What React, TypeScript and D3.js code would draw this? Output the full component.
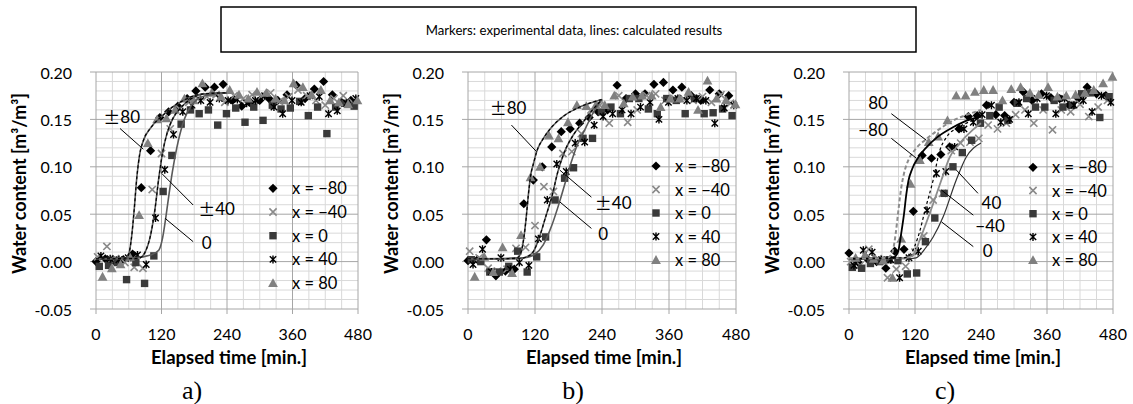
import React from 'react';
import * as d3 from 'd3';

const W = 1133;
const H = 404;

// sampling times (min) and per-sensor logging delay (min)
const sampleTimes = [0, 17, 33, 50, 67, 83, 100, 117, 133, 150, 167, 183, 200, 217, 233, 250, 267, 283, 300, 317, 333, 350, 367, 383, 400, 417, 433, 450, 467];
const sensorDelay = [0, 3, 6, 9, 12];
const seriesLabels = ['x = \u221280', 'x = \u221240', 'x = 0', 'x = 40', 'x = 80'];
const markerKinds = ['diamond', 'cross', 'square', 'star', 'triangle'];
const xTicks = [0, 120, 240, 360, 480];
const yTicks = [-0.05, 0, 0.05, 0.1, 0.15, 0.2];
const yTickLabels = ['-0.05', '0.00', '0.05', '0.10', '0.15', '0.20'];
const panelLetters = ['a)', 'b)', 'c)'];
const titleText = 'Markers: experimental data, lines: calculated results';

// ---------- panel a ----------
const aM80 = [0.000, 0.003, 0.001, 0.002, 0.008, 0.078, 0.117, 0.152, 0.158, 0.164, 0.172, 0.180, 0.184, 0.184, 0.187, 0.170, 0.164, 0.168, 0.170, 0.172, 0.170, 0.176, 0.186, 0.172, 0.182, 0.190, 0.176, 0.168, 0.170];
const aM40 = [0.005, 0.016, 0.003, -0.001, -0.006, -0.007, 0.076, 0.114, 0.140, 0.161, 0.168, 0.172, 0.174, 0.176, 0.168, 0.175, 0.172, 0.176, 0.175, 0.178, 0.169, 0.174, 0.181, 0.175, 0.170, 0.165, 0.172, 0.175, 0.168];
const a0 = [-0.005, -0.004, -0.001, -0.019, -0.001, -0.023, 0.006, 0.074, 0.112, 0.145, 0.160, 0.156, 0.160, 0.144, 0.156, 0.162, 0.147, 0.163, 0.149, 0.165, 0.161, 0.162, 0.169, 0.154, 0.163, 0.135, 0.163, 0.167, 0.164];
const aP40 = [0.006, 0.003, 0.002, 0.004, 0.007, -0.003, 0.046, 0.097, 0.134, 0.158, 0.165, 0.170, 0.168, 0.172, 0.170, 0.171, 0.167, 0.170, 0.175, 0.163, 0.156, 0.170, 0.168, 0.175, 0.174, 0.156, 0.159, 0.167, 0.172];
const aP80 = [-0.016, -0.007, -0.003, 0.005, 0.049, 0.125, 0.150, 0.151, 0.160, 0.172, 0.170, 0.188, 0.178, 0.174, 0.181, 0.176, 0.172, 0.179, 0.178, 0.172, 0.170, 0.188, 0.184, 0.176, 0.181, 0.170, 0.168, 0.166, 0.170];

const aLine80 = [[0, 0.003], [30, 0.003], [55, 0.004], [60, 0.008], [65, 0.025], [70, 0.055], [75, 0.09], [80, 0.113], [87, 0.128], [100, 0.141], [120, 0.153], [140, 0.163], [160, 0.170], [180, 0.175], [200, 0.177], [240, 0.178]];
const aLine40 = [[0, 0.003], [60, 0.003], [80, 0.004], [90, 0.01], [100, 0.028], [108, 0.055], [115, 0.088], [122, 0.115], [130, 0.135], [140, 0.150], [155, 0.162], [175, 0.172], [200, 0.177], [240, 0.178]];
const aLine0 = [[0, 0.003], [70, 0.004], [100, 0.007], [115, 0.012], [122, 0.025], [128, 0.047], [134, 0.072], [140, 0.095], [148, 0.12], [160, 0.147], [175, 0.165], [200, 0.175], [240, 0.178]];

// ---------- panel b ----------
const bM80 = [0.001, 0.002, 0.023, -0.015, -0.010, -0.008, 0.061, 0.086, 0.100, 0.121, 0.137, 0.140, 0.146, 0.152, 0.158, 0.160, 0.186, 0.172, 0.177, 0.177, 0.187, 0.189, 0.181, 0.184, 0.175, 0.170, 0.181, 0.177, 0.175];
const bM40 = [0.011, 0.004, -0.007, -0.010, -0.008, 0.014, 0.015, 0.038, 0.079, 0.074, 0.114, 0.116, 0.135, 0.160, 0.165, 0.146, 0.175, 0.147, 0.160, 0.175, 0.177, 0.170, 0.172, 0.172, 0.170, 0.174, 0.168, 0.176, 0.167];
const b0 = [0.002, 0.000, -0.011, -0.011, -0.005, 0.011, -0.011, 0.005, 0.026, 0.065, 0.088, 0.099, 0.130, 0.130, 0.158, 0.163, 0.156, 0.172, 0.172, 0.161, 0.156, 0.172, 0.170, 0.156, 0.172, 0.156, 0.157, 0.161, 0.154];
const bP40 = [-0.003, 0.013, -0.011, 0.004, -0.008, -0.001, -0.004, 0.024, 0.065, 0.103, 0.095, 0.125, 0.126, 0.144, 0.153, 0.156, 0.160, 0.156, 0.163, 0.168, 0.150, 0.168, 0.172, 0.170, 0.172, 0.170, 0.146, 0.162, 0.165];
const bP80 = [-0.016, 0.005, -0.011, 0.015, -0.012, 0.028, 0.089, 0.100, 0.133, 0.130, 0.147, 0.165, 0.164, 0.165, 0.165, 0.175, 0.167, 0.174, 0.175, 0.175, 0.163, 0.172, 0.172, 0.179, 0.160, 0.191, 0.172, 0.170, 0.166];

const bLine80 = [[0, 0.003], [60, 0.003], [88, 0.004], [95, 0.01], [100, 0.025], [104, 0.045], [108, 0.07], [112, 0.09], [118, 0.105], [123, 0.116], [135, 0.13], [150, 0.142], [170, 0.153], [200, 0.163], [240, 0.171]];
const bLine40 = [[0, 0.003], [90, 0.003], [105, 0.005], [117, 0.0105], [128, 0.026], [140, 0.049], [150, 0.068], [161, 0.095], [173, 0.116], [188, 0.133], [206, 0.147], [223, 0.16], [240, 0.171]];
const bLine0 = [[0, 0.003], [100, 0.004], [120, 0.008], [135, 0.018], [150, 0.038], [164, 0.063], [175, 0.085], [185, 0.105], [195, 0.122], [210, 0.140], [225, 0.158], [240, 0.171]];

// ---------- panel c ----------
const cM80 = [0.009, -0.001, 0.003, 0.000, -0.007, 0.011, 0.013, 0.053, 0.112, 0.109, 0.113, 0.121, 0.140, 0.153, 0.154, 0.165, 0.155, 0.154, 0.168, 0.179, 0.170, 0.177, 0.173, 0.172, 0.165, 0.172, 0.184, 0.177, 0.175];
const cM40 = [0.000, -0.004, 0.013, 0.003, -0.017, -0.008, -0.005, 0.010, 0.027, 0.065, 0.072, 0.117, 0.125, 0.126, 0.130, 0.144, 0.140, 0.146, 0.155, 0.160, 0.146, 0.160, 0.139, 0.160, 0.158, 0.166, 0.153, 0.163, 0.170];
const c0 = [-0.006, -0.007, -0.002, 0.000, 0.002, 0.001, -0.013, -0.012, 0.021, 0.046, 0.072, 0.100, 0.115, 0.128, 0.146, 0.154, 0.163, 0.149, 0.167, 0.172, 0.163, 0.163, 0.170, 0.163, 0.165, 0.177, 0.178, 0.152, 0.174];
const cP40 = [-0.004, 0.012, 0.010, 0.002, 0.002, -0.017, 0.004, 0.011, 0.054, 0.093, 0.095, 0.121, 0.140, 0.147, 0.155, 0.165, 0.147, 0.150, 0.168, 0.156, 0.172, 0.175, 0.156, 0.172, 0.165, 0.170, 0.158, 0.175, 0.168];
const cP80 = [0.004, 0.007, 0.003, 0.001, -0.017, 0.024, 0.082, 0.107, 0.126, 0.132, 0.149, 0.175, 0.175, 0.179, 0.181, 0.181, 0.170, 0.182, 0.184, 0.178, 0.176, 0.184, 0.174, 0.175, 0.176, 0.178, 0.181, 0.188, 0.195];

const cLine80 = [[0, 0.003], [70, 0.004], [75, 0.006], [80, 0.012], [85, 0.03], [90, 0.055], [95, 0.078], [100, 0.093], [108, 0.107], [120, 0.118], [140, 0.129], [165, 0.14], [190, 0.149], [215, 0.155], [240, 0.16]];
const cLineM80 = [[0, 0.003], [80, 0.004], [85, 0.006], [90, 0.012], [95, 0.03], [100, 0.05], [104, 0.07], [108, 0.085], [115, 0.098], [125, 0.109], [140, 0.12], [160, 0.131], [190, 0.142], [215, 0.149], [240, 0.153]];
const cLine40 = [[0, 0.003], [100, 0.004], [113, 0.009], [125, 0.025], [140, 0.058], [153, 0.086], [165, 0.117], [177, 0.131], [200, 0.142], [225, 0.149], [240, 0.153]];
const cLineM40 = [[0, 0.003], [100, 0.004], [116, 0.006], [130, 0.025], [153, 0.061], [168, 0.086], [183, 0.11], [200, 0.124], [225, 0.139], [240, 0.146]];
const cLine0 = [[0, 0.003], [105, 0.003], [122, 0.004], [140, 0.015], [153, 0.026], [171, 0.047], [195, 0.086], [213, 0.11], [240, 0.125]];

// annotations: sign prefix, number, label position (t, v), leader from (t, v) to (t, v)
const aNotes = [
  { sign: '\u00b1', num: '80', at: [47, 0.154], from: [44, 0.1404], to: [86.7, 0.1186] },
  { sign: '\u00b1', num: '40', at: [221, 0.0568], from: [178, 0.0597], to: [120.4, 0.093] },
  { sign: '', num: '0', at: [203, 0.021], from: [178, 0.021], to: [126.4, 0.0457] },
];
const bNotes = [
  { sign: '\u00b1', num: '80', at: [71.7, 0.163], from: [77.8, 0.144], to: [122.7, 0.116] },
  { sign: '\u00b1', num: '40', at: [260, 0.063], from: [221, 0.068], to: [164.4, 0.0965] },
  { sign: '', num: '0', at: [242, 0.0305], from: [221, 0.035], to: [164.4, 0.063] },
];
const cNotes = [
  { sign: '', num: '80', at: [52.9, 0.168], from: [77, 0.156], to: [140.7, 0.128] },
  { sign: '', num: '\u221280', at: [43.6, 0.14], from: [77, 0.13], to: [122.5, 0.109] },
  { sign: '', num: '40', at: [259, 0.063], from: [234.5, 0.072], to: [195.3, 0.0965] },
  { sign: '', num: '\u221240', at: [256.5, 0.0386], from: [226, 0.049], to: [168, 0.0755] },
  { sign: '', num: '0', at: [252, 0.0123], from: [226, 0.0158], to: [168, 0.042] },
];

const FONT = 'Lato, "Open Sans", sans-serif';
const CJK = '"Noto Sans CJK JP", sans-serif';
const LINE_STYLES: Record<string, { stroke: string; width: number; dash?: string }> = {
  solidGray: { stroke: '#595959', width: 1.6 },
  dashBlack: { stroke: '#000000', width: 1.2, dash: '3,2.5' },
  solidBlack: { stroke: '#000000', width: 1.8 },
  dashGray: { stroke: '#8c8c8c', width: 2, dash: '4,2.5' },
  lightSolid: { stroke: '#8c8c8c', width: 1.8 },
  thinDark: { stroke: '#333333', width: 1.2 },
};

const panels = [
  {
    left: 96, right: 358,
    series: [aM80, aM40, a0, aP40, aP80],
    lines: [
      { pts: aLine0, style: 'solidGray' },
      { pts: aLine40, style: 'solidGray' },
      { pts: aLine40, style: 'dashBlack' },
      { pts: aLine80, style: 'solidGray' },
      { pts: aLine80, style: 'dashBlack' },
    ],
    notes: aNotes,
    legend: { dx: 177, y0: 188.3, step: 23.7 },
    letterX: 192,
  },
  {
    left: 468, right: 736,
    series: [bM80, bM40, b0, bP40, bP80],
    lines: [
      { pts: bLine0, style: 'solidGray' },
      { pts: bLine40, style: 'solidGray' },
      { pts: bLine40, style: 'dashBlack' },
      { pts: bLine80, style: 'solidGray' },
      { pts: bLine80, style: 'dashBlack' },
    ],
    notes: bNotes,
    legend: { dx: 188, y0: 166, step: 23.5 },
    letterX: 573,
  },
  {
    left: 849, right: 1113,
    series: [cM80, cM40, c0, cP40, cP80],
    lines: [
      { pts: cLine0, style: 'thinDark' },
      { pts: cLineM40, style: 'lightSolid' },
      { pts: cLine40, style: 'dashBlack' },
      { pts: cLineM80, style: 'solidBlack' },
      { pts: cLine80, style: 'dashGray' },
    ],
    notes: cNotes,
    legend: { dx: 184, y0: 167.3, step: 23.2 },
    letterX: 945,
  },
];

const TOP = 72;
const BOTTOM = 309;

function Marker({ kind, x, y }: { kind: string; x: number; y: number }) {
  if (kind === 'diamond') {
    const s = 4.6;
    return <path d={`M${x},${y - s}L${x + s},${y}L${x},${y + s}L${x - s},${y}Z`} fill="#000" />;
  }
  if (kind === 'cross') {
    const s = 3.6;
    return <path d={`M${x - s},${y - s}L${x + s},${y + s}M${x - s},${y + s}L${x + s},${y - s}`} stroke="#8a8a8a" strokeWidth={1.6} fill="none" />;
  }
  if (kind === 'square') {
    const s = 3.7;
    return <rect x={x - s} y={y - s} width={2 * s} height={2 * s} fill="#3a3a3a" />;
  }
  if (kind === 'star') {
    const s = 3.2;
    return <path d={`M${x - s},${y - s}L${x + s},${y + s}M${x - s},${y + s}L${x + s},${y - s}M${x},${y - 4}L${x},${y + 4}`} stroke="#000" strokeWidth={1.4} fill="none" />;
  }
  const s = 4.9;
  return <path d={`M${x},${y - s}L${x + s},${y + s * 0.8}L${x - s},${y + s * 0.8}Z`} fill="#808080" />;
}

function Panel({ p, idx }: { p: any; idx: number }) {
  const x = d3.scaleLinear().domain([0, 480]).range([p.left, p.right]);
  const y = d3.scaleLinear().domain([-0.05, 0.2]).range([BOTTOM, TOP]);
  const minorX = d3.range(30, 480, 30).filter((t) => t % 120 !== 0);
  const minorY = d3.range(-4, 20, 1).map((i) => i / 100).filter((v) => Math.abs(Math.round(v * 100)) % 5 !== 0);
  const line = d3.line<number[]>().x((d) => x(d[0])).y((d) => y(d[1])).curve(d3.curveMonotoneX);
  const cx = (p.left + p.right) / 2;
  return (
    <g>
      {minorX.map((t) => (
        <line key={'mx' + t} x1={x(t)} x2={x(t)} y1={TOP} y2={BOTTOM} stroke="#d9d9d9" strokeWidth={1} />
      ))}
      {minorY.map((v) => (
        <line key={'my' + v} x1={p.left} x2={p.right} y1={y(v)} y2={y(v)} stroke="#d9d9d9" strokeWidth={1} />
      ))}
      {yTicks.map((v) => (
        <line key={'gy' + v} x1={p.left - 6} x2={p.right} y1={y(v)} y2={y(v)} stroke="#a6a6a6" strokeWidth={1} />
      ))}
      {xTicks.map((t) => (
        <line key={'gx' + t} x1={x(t)} x2={x(t)} y1={TOP} y2={BOTTOM + 5} stroke="#a6a6a6" strokeWidth={1} />
      ))}
      {yTicks.map((v, i) => (
        <text key={'ty' + v} x={p.left - 24} y={y(v)} textAnchor="end" dominantBaseline="central" fontSize={16} fontFamily={FONT} fill="#000">
          {yTickLabels[i]}
        </text>
      ))}
      {xTicks.map((t) => (
        <text key={'tx' + t} x={x(t)} y={333} textAnchor="middle" dominantBaseline="central" fontSize={16} fontFamily={FONT} fill="#000">
          {t}
        </text>
      ))}
      <text x={cx + 2} y={357} textAnchor="middle" dominantBaseline="central" fontSize={18.5} fontWeight="bold" fontFamily={FONT}>
        Elapsed time [min.]
      </text>
      <text transform={`translate(${p.left - 77},${183.5}) rotate(-90)`} textAnchor="middle" dominantBaseline="central" fontSize={18} fontWeight="bold" fontFamily={FONT}>
        Water content [m³/m³]
      </text>
      <text x={p.letterX} y={390} textAnchor="middle" dominantBaseline="central" fontSize={26} fontFamily='"Liberation Serif", "Times New Roman", serif'>
        {panelLetters[idx]}
      </text>
      {p.series.map((vals: number[], si: number) =>
        vals.map((v, k) => (
          <Marker key={`m${si}-${k}`} kind={markerKinds[si]} x={x(sampleTimes[k] + sensorDelay[si])} y={y(v)} />
        ))
      )}
      {p.lines.map((l: any, li: number) => {
        const st = LINE_STYLES[l.style];
        return <path key={'l' + li} d={line(l.pts) || ''} fill="none" stroke={st.stroke} strokeWidth={st.width} strokeDasharray={st.dash} />;
      })}
      {p.notes.map((n: any, ni: number) => (
        <g key={'n' + ni}>
          <line x1={x(n.from[0])} y1={y(n.from[1])} x2={x(n.to[0])} y2={y(n.to[1])} stroke="#000" strokeWidth={1} />
          <text x={x(n.at[0])} y={y(n.at[1])} textAnchor="middle" dominantBaseline="central" fontSize={17} fontFamily={FONT}>
            {n.sign ? <tspan fontFamily={CJK} fontSize={17}>{n.sign}</tspan> : null}
            <tspan>{n.num}</tspan>
          </text>
        </g>
      ))}
      {seriesLabels.map((lab, si) => {
        const ly = p.legend.y0 + si * p.legend.step;
        return (
          <g key={'lg' + si}>
            <Marker kind={markerKinds[si]} x={p.left + p.legend.dx} y={ly} />
            <text x={p.left + p.legend.dx + 19} y={ly} dominantBaseline="central" fontSize={16.5} fontFamily={FONT}>
              {lab}
            </text>
          </g>
        );
      })}
    </g>
  );
}

export default function App() {
  return (
    <svg width={W} height={H} style={{ position: 'absolute', left: 0, top: 0, background: '#fff' }}>
      <rect x={0} y={0} width={W} height={H} fill="#fff" />
      <rect x={221} y={7} width={695} height={45} fill="#fff" stroke="#000" strokeWidth={1.5} />
      <text x={574} y={29.5} textAnchor="middle" dominantBaseline="central" fontSize={13.2} fontFamily={FONT}>
        {titleText}
      </text>
      {panels.map((p, i) => (
        <Panel key={i} p={p} idx={i} />
      ))}
    </svg>
  );
}
